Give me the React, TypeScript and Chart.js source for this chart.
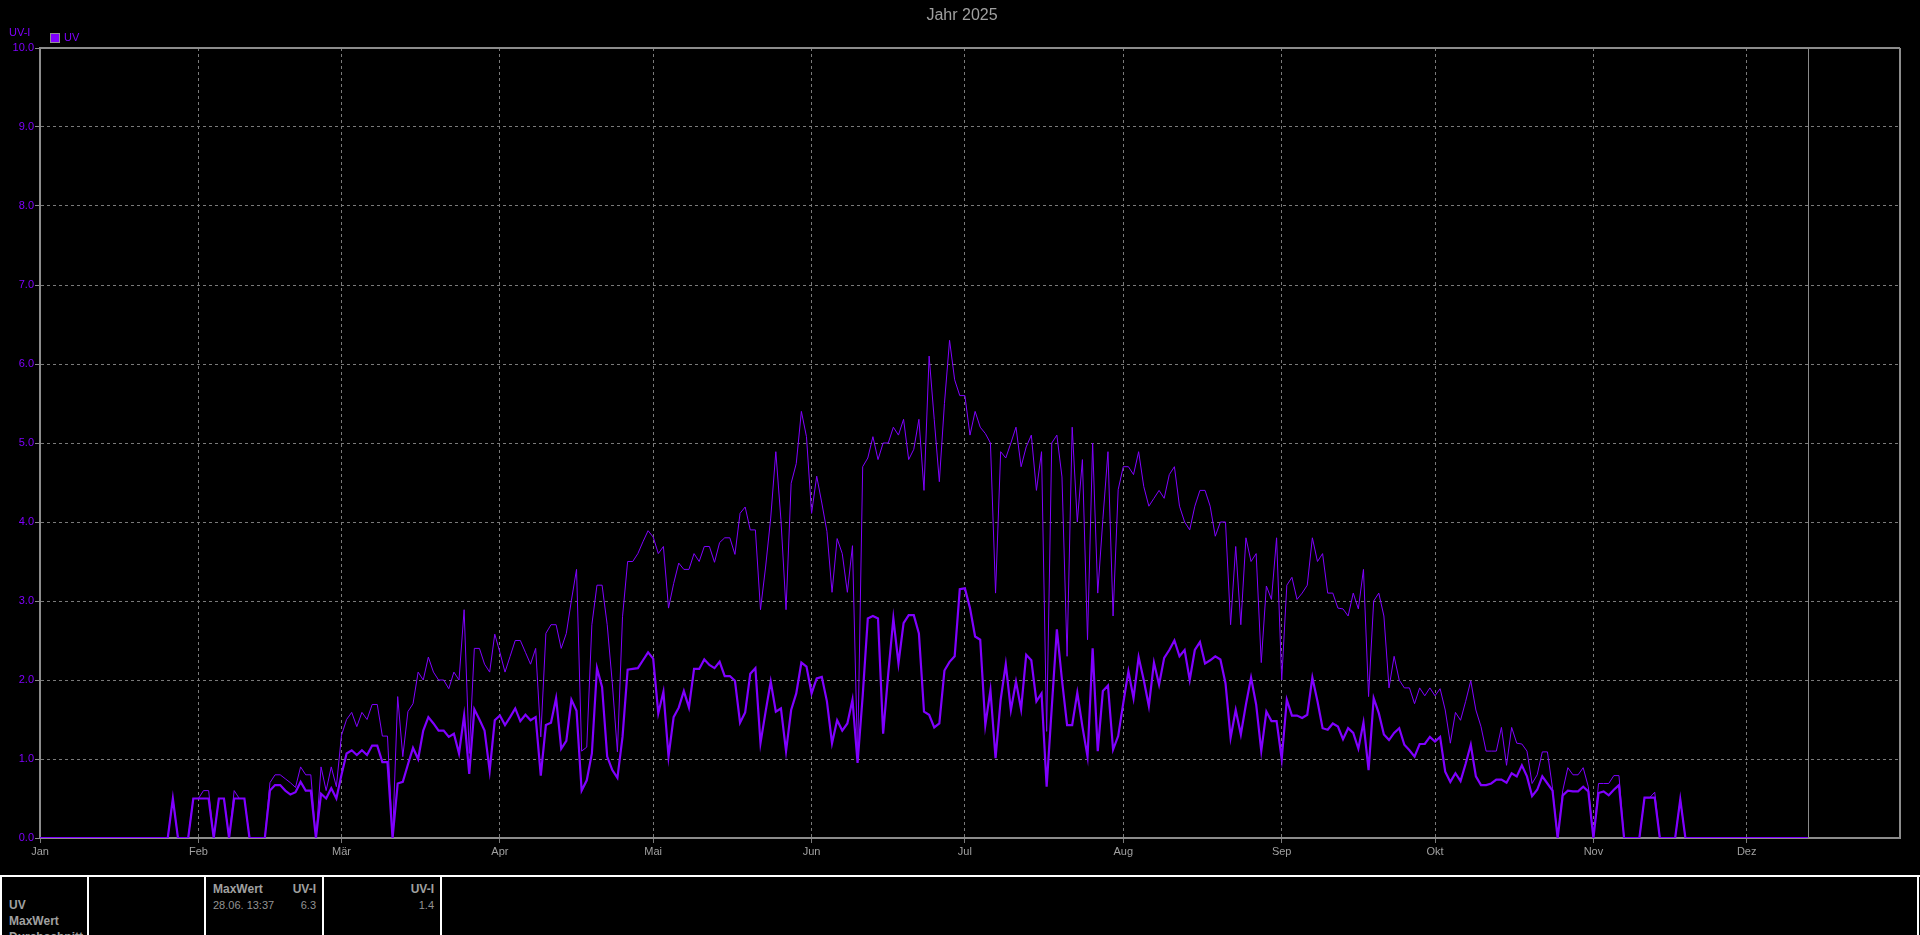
import React, { useEffect, useRef } from 'react';
import { Chart, registerables } from 'chart.js';

Chart.register(...registerables);

const chartTitle = 'Jahr 2025';
const yAxisTitle = 'UV-I';
const seriesName = 'UV';
const monthLabels = ['Jan', 'Feb', 'Mär', 'Apr', 'Mai', 'Jun', 'Jul', 'Aug', 'Sep', 'Okt', 'Nov', 'Dez'];
const monthStartDays = [0, 31, 59, 90, 120, 151, 181, 212, 243, 273, 304, 334];
const yMin = 0;
const yMax = 10;
const yStep = 1;
const xMaxDay = 364;

// daily maximum UV index (thin line), day 0 = 1 Jan
const uvMax = [
  0, 0, 0, 0, 0, 0, 0, 0, 0, 0,
  0, 0, 0, 0, 0, 0, 0, 0, 0, 0,
  0, 0, 0, 0, 0, 0, 0.5, 0, 0, 0,
  0.5, 0.5, 0.6, 0.6, 0, 0.5, 0.5, 0, 0.6, 0.5,
  0.5, 0, 0, 0, 0, 0.7, 0.8, 0.8, 0.75, 0.7,
  0.64, 0.9, 0.8, 0.8, 0, 0.9, 0.6, 0.9, 0.65, 1.3,
  1.5, 1.59, 1.41, 1.59, 1.5, 1.69, 1.69, 1.29, 1.29, 0,
  1.79, 1.03, 1.6, 1.7, 2.1, 2.0, 2.29, 2.1, 2.0, 2.0,
  1.89, 2.1, 2.0, 2.89, 1.07, 2.4, 2.4, 2.2, 2.1, 2.58,
  2.35, 2.1, 2.3, 2.5, 2.5, 2.35, 2.2, 2.4, 1.28, 2.59,
  2.7, 2.7, 2.4, 2.59, 3.01, 3.4, 1.1, 1.15, 2.7, 3.2,
  3.2, 2.7, 1.96, 1.09, 2.8, 3.5, 3.5, 3.6, 3.75, 3.89,
  3.81, 3.6, 3.69, 2.91, 3.22, 3.48, 3.4, 3.4, 3.6, 3.5,
  3.69, 3.69, 3.49, 3.74, 3.8, 3.8, 3.59, 4.11, 4.19, 3.9,
  3.9, 2.89, 3.43, 4.05, 4.89, 4.03, 2.89, 4.49, 4.74, 5.4,
  5.08, 4.11, 4.58, 4.24, 3.88, 3.11, 3.79, 3.6, 3.11, 3.7,
  1.0, 4.7, 4.81, 5.08, 4.79, 5.0, 5.0, 5.2, 5.1, 5.3,
  4.79, 4.92, 5.3, 4.4, 6.1, 5.3, 4.51, 5.5, 6.3, 5.8,
  5.6, 5.6, 5.1, 5.4, 5.2, 5.12, 5.0, 3.1, 4.89, 4.81,
  5.0, 5.2, 4.7, 4.95, 5.1, 4.4, 4.89, 1.35, 5.0, 5.1,
  4.57, 2.3, 5.2, 4.0, 4.79, 2.51, 5.0, 3.1, 4.03, 4.89,
  2.81, 4.41, 4.7, 4.7, 4.6, 4.89, 4.45, 4.2, 4.3, 4.4,
  4.3, 4.6, 4.7, 4.2, 4.0, 3.9, 4.2, 4.4, 4.4, 4.2,
  3.82, 4.0, 4.0, 2.7, 3.69, 2.7, 3.8, 3.5, 3.6, 2.22,
  3.19, 3.02, 3.8, 2.0, 3.2, 3.3, 3.02, 3.1, 3.2, 3.8,
  3.5, 3.6, 3.1, 3.1, 2.91, 2.9, 2.81, 3.1, 2.9, 3.4,
  1.79, 3.0, 3.1, 2.81, 1.9, 2.3, 2.0, 1.9, 1.9, 1.7,
  1.9, 1.8, 1.9, 1.8, 1.89, 1.62, 1.2, 1.59, 1.49, 1.73,
  1.99, 1.62, 1.41, 1.1, 1.1, 1.1, 1.4, 0.92, 1.4, 1.2,
  1.19, 1.1, 0.69, 0.8, 1.09, 1.09, 0.63, 0, 0.6, 0.89,
  0.8, 0.8, 0.89, 0.65, 0, 0.69, 0.69, 0.69, 0.79, 0.79,
  0, 0, 0, 0, 0.51, 0.51, 0.58, 0, 0, 0,
  0, 0.49, 0, 0, 0, 0, 0, 0, 0, 0,
  0, 0, 0, 0, 0, 0, 0, 0, 0, 0,
  0, 0, 0, 0, 0, 0, 0,
];

// daily average UV index (thick line)
const uvAvg = [
  0, 0, 0, 0, 0, 0, 0, 0, 0, 0,
  0, 0, 0, 0, 0, 0, 0, 0, 0, 0,
  0, 0, 0, 0, 0, 0, 0.5, 0, 0, 0,
  0.5, 0.5, 0.5, 0.5, 0, 0.5, 0.5, 0, 0.5, 0.5,
  0.5, 0, 0, 0, 0, 0.6, 0.67, 0.67, 0.6, 0.55,
  0.58, 0.71, 0.6, 0.6, 0, 0.56, 0.5, 0.63, 0.5, 0.8,
  1.07, 1.11, 1.05, 1.11, 1.05, 1.17, 1.17, 0.96, 0.96, 0,
  0.69, 0.71, 0.93, 1.14, 1.0, 1.36, 1.53, 1.45, 1.36, 1.36,
  1.28, 1.32, 1.07, 1.55, 0.81, 1.63, 1.5, 1.36, 0.85, 1.49,
  1.55, 1.43, 1.53, 1.64, 1.48, 1.56, 1.49, 1.53, 0.79, 1.43,
  1.46, 1.77, 1.13, 1.23, 1.75, 1.61, 0.6, 0.73, 1.07, 2.15,
  1.91, 1.03, 0.86, 0.76, 1.28, 2.13, 2.14, 2.15, 2.25, 2.35,
  2.27, 1.58, 1.85, 1.03, 1.53, 1.65, 1.86, 1.65, 2.14, 2.14,
  2.26, 2.19, 2.15, 2.23, 2.05, 2.05, 1.99, 1.46, 1.59, 2.08,
  2.15, 1.2, 1.6, 1.98, 1.6, 1.64, 1.1, 1.62, 1.83, 2.22,
  2.17, 1.83, 2.02, 2.04, 1.73, 1.2, 1.49, 1.36, 1.45, 1.75,
  0.95, 1.8, 2.78, 2.81, 2.78, 1.32, 2.08, 2.78, 2.21, 2.72,
  2.82, 2.82, 2.59, 1.6, 1.56, 1.4, 1.45, 2.12, 2.23, 2.3,
  3.15, 3.16, 2.91, 2.55, 2.51, 1.43, 1.87, 1.01, 1.75, 2.2,
  1.62, 1.98, 1.63, 2.32, 2.25, 1.73, 1.83, 0.65, 1.65, 2.64,
  2.0, 1.43, 1.43, 1.84, 1.41, 1.03, 2.4, 1.1, 1.86, 1.93,
  1.12, 1.29, 1.71, 2.11, 1.77, 2.29, 2.0, 1.67, 2.22, 1.94,
  2.28, 2.38, 2.5, 2.3, 2.38, 2.0, 2.38, 2.48, 2.21, 2.25,
  2.3, 2.26, 1.96, 1.27, 1.62, 1.31, 1.69, 2.03, 1.69, 1.1,
  1.6, 1.48, 1.48, 1.0, 1.75, 1.55, 1.55, 1.52, 1.56, 2.03,
  1.73, 1.39, 1.37, 1.45, 1.41, 1.25, 1.39, 1.33, 1.13, 1.46,
  0.86, 1.77, 1.58, 1.31, 1.24, 1.33, 1.39, 1.18, 1.11, 1.03,
  1.19, 1.19, 1.28, 1.22, 1.28, 0.84, 0.71, 0.82, 0.72, 0.94,
  1.18, 0.78, 0.67, 0.67, 0.69, 0.74, 0.74, 0.7, 0.82, 0.78,
  0.92, 0.78, 0.53, 0.61, 0.78, 0.69, 0.6, 0, 0.54, 0.6,
  0.59, 0.59, 0.65, 0.59, 0, 0.57, 0.59, 0.54, 0.61, 0.67,
  0, 0, 0, 0, 0.51, 0.51, 0.51, 0, 0, 0,
  0, 0.49, 0, 0, 0, 0, 0, 0, 0, 0,
  0, 0, 0, 0, 0, 0, 0, 0, 0, 0,
  0, 0, 0, 0, 0, 0, 0,
];

// summary table texts
const summaryRowLabels = ['UV', 'MaxWert', 'Durchschnitt'];
const maxHeader = 'MaxWert';
const unitLabel = 'UV-I';
const maxTimestamp = '28.06.  13:37';
const maxValueText = '6.3';
const avgValueText = '1.4';

const PURPLE = '#8000ff';
const GRID = '#7a7a7a';
const AXIS = '#8c8c8c';
const TEXT = '#a0a0a0';
const FONT = "'Liberation Sans', Arial, sans-serif";

export default function App() {
  const canvasRef = useRef<HTMLCanvasElement | null>(null);

  useEffect(() => {
    document.body.style.margin = '0';
    document.body.style.background = '#000';
    const canvas = canvasRef.current;
    if (!canvas) return;

    const framePlugin = {
      id: 'framePlugin',
      afterDraw(chart: any) {
        const { ctx, chartArea } = chart;
        const xs = chart.scales.x;
        ctx.save();
        ctx.strokeStyle = AXIS;
        ctx.lineWidth = 2;
        ctx.beginPath();
        ctx.moveTo(chartArea.left, chartArea.top);
        ctx.lineTo(chartArea.right, chartArea.top);
        ctx.moveTo(chartArea.right, chartArea.top);
        ctx.lineTo(chartArea.right, chartArea.bottom);
        ctx.stroke();
        // marker of the last recorded day
        const lastX = Math.round(xs.getPixelForValue(uvMax.length - 1)) + 0.5;
        ctx.lineWidth = 1;
        ctx.strokeStyle = '#8a8a8a';
        ctx.beginPath();
        ctx.moveTo(lastX, chartArea.top);
        ctx.lineTo(lastX, chartArea.bottom);
        ctx.stroke();
        ctx.restore();
      },
    };

    const chart = new Chart(canvas, {
      type: 'line',
      data: {
        datasets: [
          {
            label: seriesName + ' avg',
            data: uvAvg.map((v, i) => ({ x: i, y: v })),
            borderColor: PURPLE,
            backgroundColor: PURPLE,
            borderWidth: 2.2,
            pointRadius: 0,
            tension: 0,
            fill: false,
          },
          {
            label: seriesName,
            data: uvMax.map((v, i) => ({ x: i, y: v })),
            borderColor: PURPLE,
            backgroundColor: PURPLE,
            borderWidth: 1,
            pointRadius: 0,
            tension: 0,
            fill: false,
          },
        ],
      },
      options: {
        responsive: false,
        animation: false,
        devicePixelRatio: 1,
        layout: { padding: { top: 48, right: 20, left: 0, bottom: 0 } },
        plugins: {
          legend: { display: false },
          title: { display: false },
          tooltip: { enabled: false },
        },
        events: [],
        scales: {
          x: {
            type: 'linear',
            min: 0,
            max: xMaxDay,
            afterBuildTicks: (s: any) => {
              s.ticks = monthStartDays.map((v) => ({ value: v }));
            },
            afterFit: (s: any) => {
              s.height = 37;
            },
            ticks: {
              autoSkip: false,
              maxRotation: 0,
              minRotation: 0,
              padding: 2,
              color: TEXT,
              font: { family: FONT, size: 11 },
              callback: (_v: any, i: number) => monthLabels[i] ?? '',
            },
            grid: {
              color: GRID,
              lineWidth: 1,
              drawTicks: true,
              tickLength: 5,
              tickColor: GRID,
              tickWidth: 1,
            },
            border: { display: true, color: AXIS, width: 2, dash: [3, 3] },
          },
          y: {
            type: 'linear',
            min: yMin,
            max: yMax,
            afterFit: (s: any) => {
              s.width = 40;
            },
            ticks: {
              stepSize: yStep,
              padding: 1,
              color: PURPLE,
              font: { family: FONT, size: 11 },
              callback: (v: any) => Number(v).toFixed(1),
            },
            grid: {
              color: GRID,
              lineWidth: 1,
              drawTicks: true,
              tickLength: 5,
              tickColor: AXIS,
              tickWidth: 1,
            },
            border: { display: true, color: AXIS, width: 2, dash: [3, 3] },
          },
        },
      },
      plugins: [framePlugin],
    } as any);

    return () => {
      chart.destroy();
    };
  }, []);

  const txt = (extra: React.CSSProperties): React.CSSProperties => ({
    position: 'absolute',
    fontFamily: FONT,
    whiteSpace: 'nowrap',
    lineHeight: '14px',
    ...extra,
  });

  const divider = (x: number): React.CSSProperties => ({
    position: 'absolute',
    left: x,
    top: 0,
    width: 2,
    height: 60,
    background: '#ffffff',
  });

  return (
    <div
      style={{
        position: 'relative',
        width: 1920,
        height: 935,
        background: '#000',
        overflow: 'hidden',
      }}
    >
      <canvas
        ref={canvasRef}
        width={1920}
        height={875}
        style={{ position: 'absolute', left: 0, top: 0, width: 1920, height: 875, display: 'block' }}
      />
      <div style={txt({ left: 962, top: 6, transform: 'translateX(-50%)', fontSize: 16, lineHeight: '18px', color: TEXT })}>
        {chartTitle}
      </div>
      <div style={txt({ left: 9, top: 26, fontSize: 11, lineHeight: '13px', color: PURPLE })}>{yAxisTitle}</div>
      <div
        style={{
          position: 'absolute',
          left: 50,
          top: 33,
          width: 10,
          height: 10,
          boxSizing: 'border-box',
          border: '1px solid #909090',
          background: PURPLE,
        }}
      />
      <div style={txt({ left: 64, top: 31, fontSize: 11, lineHeight: '13px', color: PURPLE })}>{seriesName}</div>

      <div
        style={{
          position: 'absolute',
          left: 0,
          top: 875,
          width: 1920,
          height: 60,
          borderTop: '2px solid #ffffff',
          boxSizing: 'border-box',
        }}
      >
        <div style={divider(0)} />
        <div style={divider(87)} />
        <div style={divider(204)} />
        <div style={divider(322)} />
        <div style={divider(440)} />
        <div style={divider(1917)} />

        <div style={txt({ left: 9, top: 21, fontSize: 12, fontWeight: 'bold', color: TEXT })}>{summaryRowLabels[0]}</div>
        <div style={txt({ left: 9, top: 37, fontSize: 12, fontWeight: 'bold', color: TEXT })}>{summaryRowLabels[1]}</div>
        <div style={txt({ left: 9, top: 53, fontSize: 12, fontWeight: 'bold', color: TEXT })}>{summaryRowLabels[2]}</div>

        <div style={txt({ left: 213, top: 5, fontSize: 12, fontWeight: 'bold', color: TEXT })}>{maxHeader}</div>
        <div style={txt({ right: 1920 - 316, top: 5, fontSize: 12, fontWeight: 'bold', color: TEXT })}>{unitLabel}</div>
        <div style={txt({ left: 213, top: 21, fontSize: 11, color: '#939393' })}>{maxTimestamp}</div>
        <div style={txt({ right: 1920 - 316, top: 21, fontSize: 11, color: '#939393' })}>{maxValueText}</div>

        <div style={txt({ right: 1920 - 434, top: 5, fontSize: 12, fontWeight: 'bold', color: TEXT })}>{unitLabel}</div>
        <div style={txt({ right: 1920 - 434, top: 21, fontSize: 11, color: '#939393' })}>{avgValueText}</div>
      </div>
    </div>
  );
}
